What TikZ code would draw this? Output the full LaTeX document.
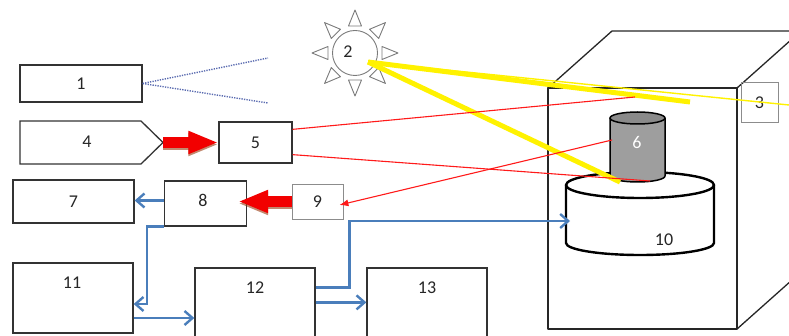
\documentclass[tikz,border=0pt]{standalone}
\usepackage{fontspec}
\setmainfont{Carlito}
\usetikzlibrary{arrows.meta,calc}
\definecolor{boxline}{HTML}{333333}
\definecolor{lightline}{HTML}{8C8C8C}
\definecolor{flowblue}{HTML}{4A7EBB}
\definecolor{rayred}{HTML}{FF1A1A}
\definecolor{fatred}{HTML}{F20000}
\definecolor{fatshadow}{HTML}{9A3A10}
\definecolor{sunyellow}{HTML}{FFF200}
\definecolor{dotblue}{HTML}{5A6BB0}
\definecolor{probegray}{HTML}{9E9E9E}
\definecolor{probetop}{HTML}{8A8A8A}
\definecolor{sunline}{HTML}{7A7A7A}
\begin{document}
\begin{tikzpicture}[x=1pt,y=-1pt,
  every node/.style={font=\fontsize{18}{20}\selectfont, text=black!85},
  box/.style={draw=boxline, line width=1.3pt, inner sep=0pt},
  thinbox/.style={draw=lightline, line width=0.8pt, inner sep=0pt},
  flow/.style={draw=flowblue, line width=2.4pt, -{Straight Barb[length=8pt,width=14pt]}},
  ray/.style={draw=rayred, line width=1.1pt},
  beam/.style={draw=sunyellow, line width=5pt},
  thinbeam/.style={draw=sunyellow, line width=1.4pt},
  fatarrow/.style={line width=11pt, -{Triangle[length=30pt,width=21pt]}},
  solid3d/.style={draw=black, line width=2.4pt, line join=round},
  cubeline/.style={draw=black!85, line width=1.3pt, line join=round}
]
\useasboundingbox (0,0) rectangle (789,336);

% measuring chamber (cube)
\draw[cubeline] (548,88) rectangle (737,329);
\draw[cubeline] (548,88) -- (612,31) -- (801,31) -- (801,272) -- (737,329);
\draw[cubeline] (737,88) -- (801,31);

% sample holder (10)
\filldraw[solid3d, fill=white] (566,185) -- (566,243)
  arc[start angle=180, end angle=360, x radius=74pt, y radius=12pt] -- (714,185);
\filldraw[solid3d, fill=white] (640,185) ellipse [x radius=74pt, y radius=13pt];
\node (t10) at (664,240) {10};

% probe (6)
\filldraw[draw=black, line width=1.5pt, fill=probegray] (610,118) -- (610,176)
  arc[start angle=180, end angle=360, x radius=27.5pt, y radius=6pt] -- (665,118);
\filldraw[draw=black, line width=1.5pt, fill=probetop] (637.5,118) ellipse [x radius=27.5pt, y radius=6pt];
\node[text=white] (t6) at (637,142) {6};
\coordinate (c6) at (612,140);

% sun (2)
\node[circle, draw=sunline, line width=0.9pt, minimum size=45pt, inner sep=0pt] (sun) at (355,53) {};
\foreach \a in {0,45,...,315}
  \draw[sunline, line width=0.9pt, line join=round, shift={(sun.center)}, rotate=\a]
    (27pt,-6.5pt) -- (43pt,0pt) -- (27pt,6.5pt) -- cycle;
\node (t2) at (348,52) {2};

% boxes
\node[box, minimum width=122pt, minimum height=37pt] (n1) at (81,83.5) {1};
\draw[box] (20,121) -- (141,121) -- (163,142.5) -- (141,164) -- (20,164) -- cycle;
\node (n4) at (87,142) {4};
\coordinate (n4tip) at (163,142.5);
\node[box, minimum width=73pt, minimum height=41pt] (n5) at (255.5,142.5) {5};
\node[thinbox, minimum width=37pt, minimum height=40pt] (n3) at (759.5,102.5) {3};
\node[box, minimum width=121pt, minimum height=43pt] (n7) at (73.5,201.5) {7};
\node[box, minimum width=82pt, minimum height=45pt] (n8) at (205.5,203.5) {};
\node (t8) at (203,200) {8};
\node[thinbox, minimum width=51pt, minimum height=35pt] (n9) at (317.5,201.5) {9};
\node[box, minimum width=120pt, minimum height=70pt] (n11) at (73,298) {};
\node (t11) at (72,283) {11};
\node[box, minimum width=120pt, minimum height=77pt] (n12) at (255,306.5) {};
\node (t12) at (255,288) {12};
\node[box, minimum width=120pt, minimum height=77pt] (n13) at (427,306.5) {};
\node (t13) at (427,288) {13};

% receiver fan of 1
\coordinate (d1) at (268,58);
\coordinate (d2) at (268,103);
\draw[dotblue, line width=1.4pt, dash pattern=on 1.3pt off 1.2pt] (n1.east) -- (d1);
\draw[dotblue, line width=1.4pt, dash pattern=on 1.3pt off 1.2pt] (n1.east) -- (d2);

% light rays
\coordinate (b0) at ($(sun.center)+(13,9)$);
\coordinate (b1) at (690,102);
\coordinate (b2) at (789,105);
\coordinate (b3) at (620,182);
\draw[thinbeam] (b0) -- (b2);
\draw[beam] (b0) -- (b1);
\draw[beam] (b0) -- (b3);

\coordinate (r1) at (635,97);
\coordinate (r2) at (650,181);
\draw[ray] ($(n5.north east)+(0,8)$) -- (r1);
\draw[ray] ($(n5.south east)+(0,-9)$) -- (r2);
\draw[ray, -{Latex[length=9pt,width=7pt]}] (c6) -- ($(n9.east)+(-4,3.5)$);

% pumped beams
\draw[fatarrow, draw=fatshadow, opacity=0.6] ([yshift=-2pt]n4tip) -- ([yshift=-2pt]n5.west);
\draw[fatarrow, draw=fatred] (n4tip) -- (n5.west);
\coordinate (e8) at ($(n8.east |- n9.west)+(-9,0)$);
\draw[fatarrow, draw=fatshadow, opacity=0.6] ([yshift=-2pt]n9.west) -- ([yshift=-2pt]e8);
\draw[fatarrow, draw=fatred] (n9.west) -- (e8);

% signal paths
\coordinate (f0) at ($(n8.west)+(0,-3)$);
\draw[flow] (f0) -- (f0 -| n7.east);
\draw[flow] (n8.south west) -- ++(-17,0) |- ($(n11.east)+(0,6)$);
\coordinate (f1) at ($(n11.east)+(0,20)$);
\draw[flow] (f1) -- (f1 -| n12.west);
\coordinate (f2) at ($(n12.north east)+(0,35)$);
\draw[flow] (f2) -- (f2 -| n13.west);
\coordinate (f3) at ($(n12.north east)+(0,20)$);
\coordinate (c10) at (570,221);
\draw[flow] (f3) -- ++(34,0) |- (c10);
\end{tikzpicture}
\end{document}
